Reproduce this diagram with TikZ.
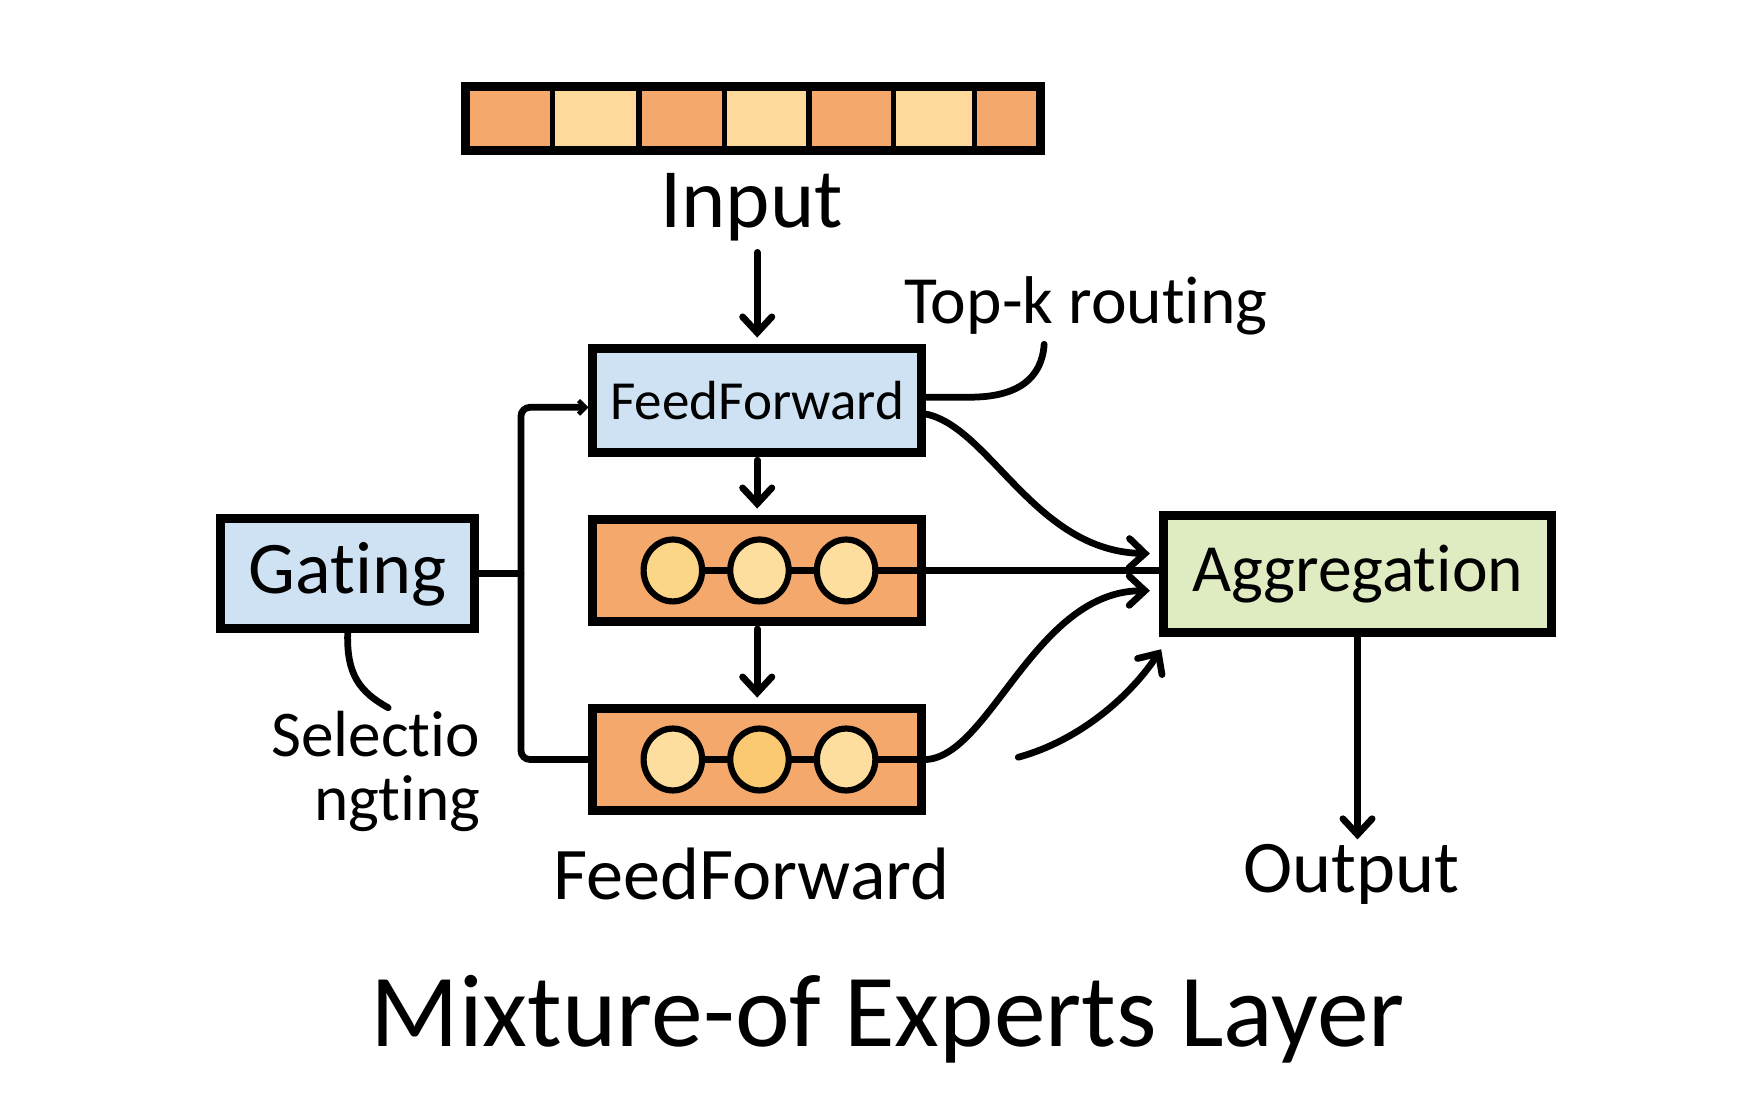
\documentclass[tikz,border=0pt]{standalone}
\usepackage{fontspec}
\setmainfont{Carlito}[Ligatures=NoCommon]
\usetikzlibrary{arrows.meta,shapes.geometric,calc}
\definecolor{boxblue}{HTML}{CFE2F3}
\definecolor{boxorange}{HTML}{F5A86C}
\definecolor{cellyellow}{HTML}{FDD99B}
\definecolor{circyellow}{HTML}{FCD687}
\definecolor{boxgreen}{HTML}{DFEBC1}
\newcommand{\fs}[1]{\fontsize{#1}{#1}\selectfont}
\begin{document}
\begin{tikzpicture}[x=1pt,y=-1pt,
  box/.style={draw=black,line width=8pt,inner sep=0pt},
  cellbox/.style={draw=black,line width=5pt,inner sep=0pt,minimum height=58pt},
  dot/.style={ellipse,draw=black,line width=5.5pt,fill=circyellow,minimum width=52pt,minimum height=55pt,inner sep=0pt},
  conn/.style={line width=6pt,line cap=round},
  arr/.style={conn,-{Straight Barb[length=14pt,width=26pt,line width=6pt,line cap=round]}},
  smallarr/.style={conn,-{Straight Barb[length=6pt,width=12pt,line width=4pt]}},
  lbl/.style={inner sep=0pt,text=black}]
\useasboundingbox (0,0) rectangle (1566,989);
\fill[white] (0,0) rectangle (1566,989);
% input bar cells
\node[cellbox,fill=boxorange,minimum width=78pt] (c1) at (452,105.5) {};
\node[cellbox,fill=cellyellow,minimum width=77pt] (c2) at (529.5,105.5) {};
\node[cellbox,fill=boxorange,minimum width=76pt] (c3) at (606,105.5) {};
\node[cellbox,fill=cellyellow,minimum width=75pt] (c4) at (681.5,105.5) {};
\node[cellbox,fill=boxorange,minimum width=75pt] (c5) at (756.5,105.5) {};
\node[cellbox,fill=cellyellow,minimum width=72pt] (c6) at (830,105.5) {};
\node[cellbox,fill=boxorange,minimum width=58pt] (c7) at (895,105.5) {};
\node[box,minimum width=511pt,minimum height=57pt] (inbar) at (669.5,105.5) {};
\node[lbl] (input) at (668,184) {\fs{75}Input};
% boxes
\node[box,fill=boxblue,minimum width=292pt,minimum height=92pt] (ff1) at (673,356) {\fs{49}FeedForward};
\node[box,fill=boxorange,minimum width=292pt,minimum height=90pt] (e1) at (673,507) {};
\node[box,fill=boxorange,minimum width=292pt,minimum height=90pt] (e2) at (673,675) {};
\node[box,fill=boxblue,minimum width=226pt,minimum height=98pt] (gating) at (309,510) {\fs{66}Gating};
\node[box,fill=boxgreen,minimum width=345pt,minimum height=104pt] (agg) at (1206.5,510) {\fs{60}Aggregation};
% circles
\node[dot] (a1) at (598,507) {};
\node[dot,fill=circyellow!80!white] (a2) at (675,507) {};
\node[dot,fill=circyellow!80!white] (a3) at (752,507) {};
\node[dot,fill=circyellow!80!white] (b1) at (598,675) {};
\node[dot,fill=circyellow!85!orange] (b2) at (675,675) {};
\node[dot,fill=circyellow!80!white] (b3) at (752,675) {};
\draw[conn] (a1) -- (a2); \draw[conn] (a2) -- (a3);
\draw[conn] (b1) -- (b2); \draw[conn] (b2) -- (b3);
% labels
\node[lbl] (ffl) at (668,777) {\fs{66}FeedForward};
\node[lbl] (output) at (1201,777) {\fs{66}Output};
\node[lbl] (topk) at (965,272) {\fs{60}Top-k routing};
\node[lbl,align=right,font=\fontsize{58}{57}\selectfont] (sel) at (334,686) {Selectio\\ngting};
\node[lbl] (title) at (789,906) {\fs{92}Mixture-of Experts Layer};
% coordinates
\coordinate (busT) at (463,362);
\coordinate (busB) at (463,675);
\coordinate (freeA) at (905,673);
\coordinate (freeB) at (1032,577);
\coordinate (topkEnd) at (928,306);
\coordinate (selEnd) at (345,629);
% connectors
\draw[arr,shorten <=10pt] (ff1.north |- input.south) -- ([yshift=6pt]ff1.north);
\draw[arr] ([yshift=-3pt]ff1.south) -- ([yshift=6pt]e1.north);
\draw[arr] ([yshift=-3pt]e1.south) -- ([yshift=6pt]e2.north);
\draw[conn] (gating.east) -- (gating.east -| busT);
\draw[smallarr,rounded corners=8pt] (e2.west) -- (busB) -- (busT) -- ([yshift=-6pt]ff1.west);
\draw[conn] (a3.east) -- (a3.east -| agg.west);
\draw[conn] (b3.east) -- (e2.east);
\draw[arr] ([yshift=-12pt]ff1.east) .. controls (880,380) and (920,490) .. ([xshift=-8pt,yshift=18pt]agg.west);
\draw[arr] (e2.east) .. controls (880,672) and (920,525) .. ([xshift=-8pt,yshift=-15pt]agg.west);
\draw[arr] (freeA) .. controls (960,658) and (1005,618) .. (freeB);
\draw[conn] ([yshift=3pt]ff1.east) -- (862,353) .. controls (905,353) and (926,336) .. (topkEnd);
\draw[conn] (gating.south) .. controls (308,600) and (320,615) .. (selEnd);
\draw[arr,shorten >=4pt] (agg.south) -- (agg.south |- output.north);
\end{tikzpicture}
\end{document}
